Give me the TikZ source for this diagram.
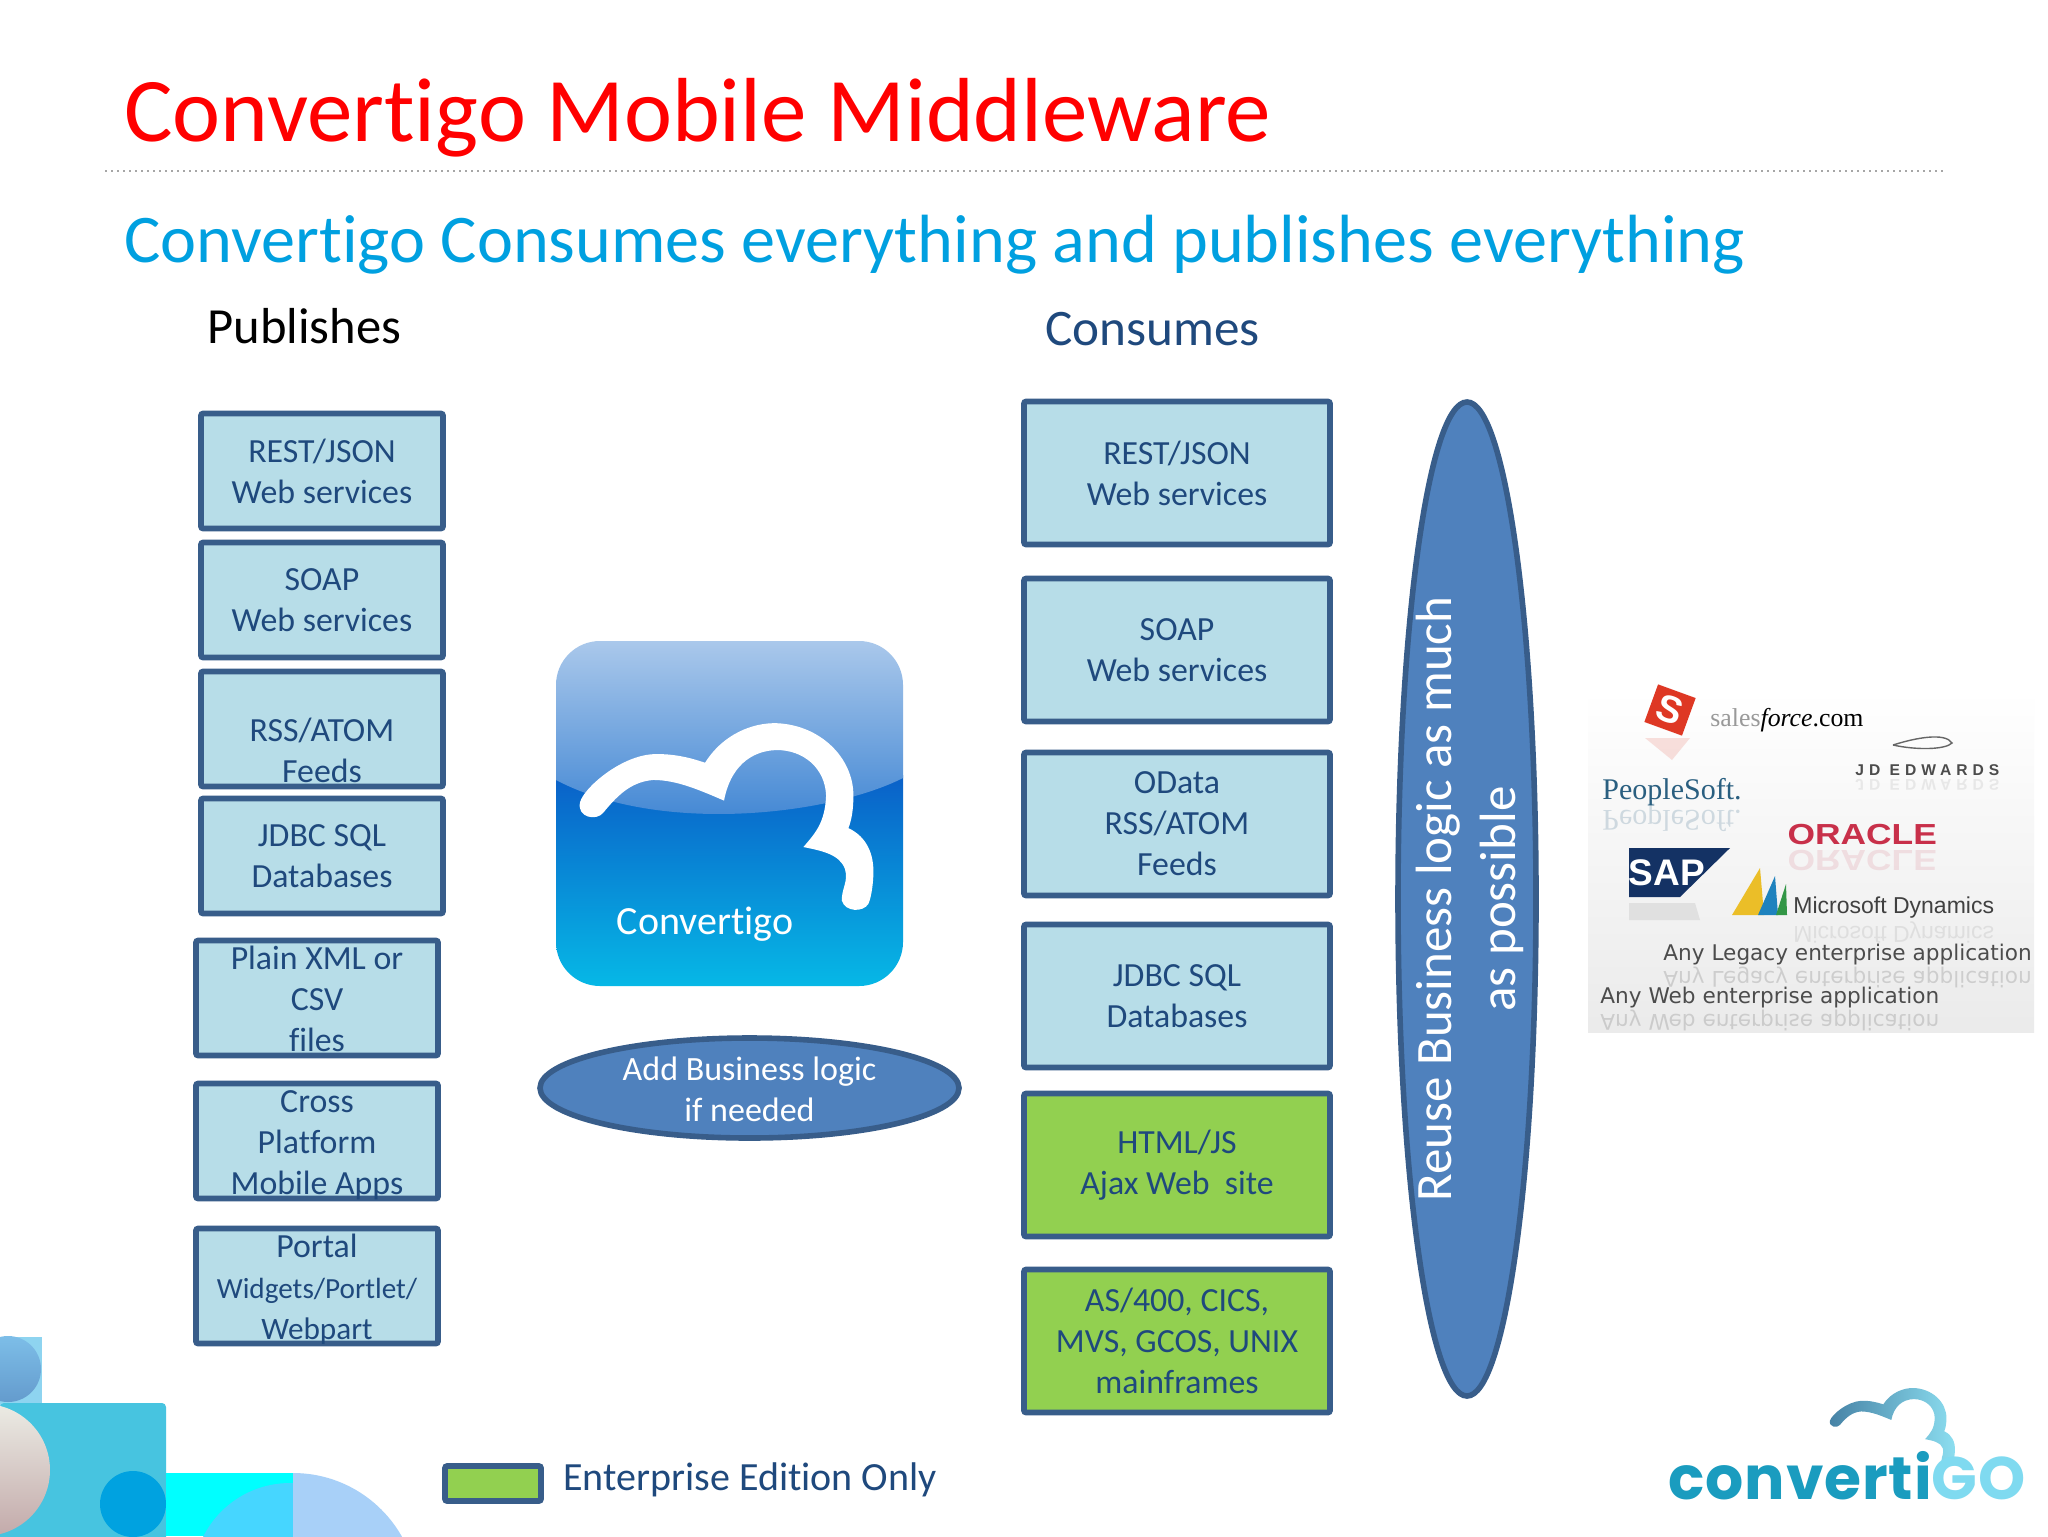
\documentclass[tikz,border=0pt]{standalone}
\usepackage{fontspec}
\usetikzlibrary{shapes.geometric}
\setmainfont[RawFeature={-liga;-clig}]{Carlito}
\newfontfamily\logosans{Liberation Sans}
\newfontfamily\logoserif{Liberation Serif}
\newfontfamily\logodeja{DejaVu Sans}
\newfontfamily\logopop{Poppins}
\definecolor{boxline}{HTML}{385D8A}
\definecolor{boxfill}{HTML}{B7DDE8}
\definecolor{boxtext}{HTML}{1F497D}
\definecolor{entgreen}{HTML}{92D050}
\definecolor{ovalfill}{HTML}{4F81BD}
\tikzset{
	svcbox/.style={draw=boxline, fill=boxfill, line width=2.8pt, rounded corners=1pt, text=boxtext, align=center, inner sep=0pt, font=\fontsize{16.9}{20.5}\selectfont},
	pubbox/.style={svcbox, minimum width=121pt, minimum height=57.5pt},
	conbox/.style={svcbox, minimum width=153pt, minimum height=71.5pt, execute at begin node={\rule{0pt}{15.5pt}}},
	entbox/.style={conbox, fill=entgreen},
	boxlabel/.style={text=boxtext, align=center, inner sep=0pt, font=\fontsize{16.9}{20.5}\selectfont},
	logicoval/.style={ellipse, draw=boxline, fill=ovalfill, line width=2.8pt, inner sep=0pt},
	ovallabel/.style={text=white, align=center, inner sep=0pt},
	logotext/.style={inner sep=0pt, anchor=west},
	mirrored/.style={logotext, yscale=-1, transform shape, opacity=0.2},
}
\def\cloudpath{(180,530) .. controls (190,490) and (300,395) .. (400,390) .. controls (460,388) and (510,400) .. (555,415) .. controls (610,330) and (700,298) .. (770,300) .. controls (900,305) and (1000,400) .. (1000,510) .. controls (1000,550) and (995,580) .. (985,605) .. controls (1040,630) and (1062,680) .. (1060,740) .. controls (1058,780) and (1052,810) .. (1045,825) .. controls (1030,850) and (975,850) .. (965,815) .. controls (965,780) and (985,760) .. (975,725) .. controls (960,680) and (900,670) .. (850,660) .. controls (885,620) and (915,590) .. (918,510) .. controls (915,430) and (850,378) .. (770,378) .. controls (690,380) and (630,430) .. (612,525) .. controls (540,495) and (470,465) .. (400,465) .. controls (340,470) and (300,500) .. (250,560) .. controls (230,585) and (170,575) .. (180,530) -- cycle}
\begin{document}
\begin{tikzpicture}[x=0.5pt, y=-0.5pt]
			%%%%% START %%%%%
			\useasboundingbox (0, 0) rectangle (2048, 1536);
			\fill[white] (0, 0) rectangle (2048, 1536);
			
			% corner decoration
			\fill[color={rgb,255:red,142;green,212;blue,240}] (0, 1337) rectangle (42, 1410);
			\shade[top color={rgb,255:red,125;green,190;blue,232}, bottom color={rgb,255:red,100;green,155;blue,205}] (8, 1369) circle (33);
			\fill[color={rgb,255:red,71;green,196;blue,224}, rounded corners=2pt] (0, 1403) rectangle (166, 1560);
			\fill[color={rgb,255:red,0;green,255;blue,255}] (166, 1473) rectangle (293, 1536);
			\begin{scope}
				\clip (166, 1473) rectangle (293, 1536);
				\fill[color={rgb,255:red,70;green,214;blue,255}] (290, 1580) circle (97);
			\end{scope}
			\begin{scope}
				\clip (293, 1473) rectangle (420, 1536);
				\fill[color={rgb,255:red,168;green,208;blue,248}] (293, 1598) circle (125);
			\end{scope}
			\begin{scope}
				\clip (0, 1400) rectangle (60, 1536);
				\shade[top color={rgb,255:red,235;green,235;blue,228}, bottom color={rgb,255:red,195;green,170;blue,170}] (-16, 1470) circle (66);
			\end{scope}
			\begin{scope}
				\clip (90, 1460) rectangle (170, 1536);
				\fill[color={rgb,255:red,0;green,162;blue,224}] (133, 1504) circle (33);
			\end{scope}
			
			% headings
			\node[logotext, text=red, font=\fontsize{45.5}{52}\selectfont] (title) at (124, 118) {Convertigo Mobile Middleware};
			\draw[dotted, line width=1pt, color=black!35] (105, 171) -- (1943, 171);
			\node[logotext, text={rgb,255:red,0;green,160;blue,224}, font=\fontsize{34.1}{38}\selectfont] (subtitle) at (124, 245) {Convertigo Consumes everything and publishes everything};
			\node[logotext, font=\fontsize{25.3}{28}\selectfont] (publishes) at (207, 326) {Publishes};
			\node[logotext, text=boxtext, font=\fontsize{25.6}{28}\selectfont] (consumes) at (1045, 329) {Consumes};
			
			% publishes column
			\node[pubbox] (pubrest) at (322, 471) {REST/JSON\\Web services};
			\node[pubbox] (pubsoap) at (322, 600) {SOAP\\Web services};
			\node[pubbox] (pubrss) at (322, 729) {};
			\node[boxlabel] (rsslabel) at (322, 750) {RSS/ATOM\\Feeds};
			\node[pubbox] (pubjdbc) at (322, 856) {JDBC SQL\\Databases};
			\node[pubbox] (pubxml) at (317, 998) {};
			\node[boxlabel] (xmllabel) at (317, 999) {Plain XML or\\CSV\\files};
			\node[pubbox] (pubcross) at (317, 1141) {};
			\node[boxlabel] (crosslabel) at (317, 1145) {Cross\\Platform\\Mobile Apps};
			\node[pubbox] (pubportal) at (317, 1286) {};
			\node[boxlabel] (portallabel) at (317, 1289) {Portal\\{\fontsize{14.6}{20}\selectfont Widgets/Portlet/}\\{\fontsize{15.6}{18}\selectfont Webpart}};
			
			% convertigo icon
			\begin{scope}
				\clip[rounded corners=22pt] (556, 641) rectangle (903, 986);
				\shade[top color={rgb,255:red,10;green,96;blue,200}, bottom color={rgb,255:red,6;green,184;blue,230}] (556, 775) rectangle (903, 986);
				\shade[top color={rgb,255:red,170;green,200;blue,235}, bottom color={rgb,255:red,58;green,130;blue,210}] (556, 641) -- (903, 641) -- (903, 778) .. controls (830, 815) and (660, 835) .. (556, 780) -- cycle;
			\end{scope}
			\begin{scope}[shift={(520, 620)}, x=0.1667pt, y=-0.172pt]
				\fill[white] \cloudpath;
			\end{scope}
			\node[text=white, inner sep=0pt, font=\fontsize{20}{24}\selectfont] (iconlabel) at (705, 924) {Convertigo};
			\node[logicoval, minimum width=209.5pt, minimum height=50pt] (addlogic) at (749.5, 1088) {};
			\node[ovallabel, font=\fontsize{17}{20.5}\selectfont] (addlabel) at (749.5, 1089) {Add Business logic\\if needed};
			
			% consumes column
			\node[conbox] (conrest) at (1177, 473) {REST/JSON\\Web services};
			\node[conbox] (consoap) at (1177, 650) {SOAP\\Web services};
			\node[conbox] (conodata) at (1177, 824) {OData\\RSS/ATOM\\Feeds};
			\node[conbox] (conjdbc) at (1177, 996) {JDBC SQL\\Databases};
			\node[entbox] (conhtml) at (1177, 1165) {HTML/JS\\Ajax Web\ \ site};
			\node[entbox] (conmain) at (1177, 1341) {AS/400, CICS,\\MVS, GCOS, UNIX\\mainframes};
			
			\node[logicoval, rotate=90, minimum width=497pt, minimum height=69pt] (reuse) at (1467, 899) {};
			\node[ovallabel, rotate=90, font=\fontsize{25.5}{32}\selectfont] (reuselabel) at (1470, 899) {Reuse Business logic as much\\as possible};
			
			% logo panel
			\shade[top color=white, bottom color=black!8] (1588, 690) rectangle (2034, 1032);
			
			\fill[color={rgb,255:red,222;green,56;blue,36}, opacity=0.15] (1645, 738) -- (1690, 738) -- (1672, 760) -- cycle;
			\node[fill={rgb,255:red,222;green,56;blue,36}, rotate=-20, minimum size=20pt, inner sep=0pt, text=white, font=\logosans\bfseries\fontsize{19}{19}\selectfont] (sfcube) at (1670, 710) {S};
			\node[logotext, font=\logoserif\fontsize{12.9}{13}\selectfont] (sfname) at (1710, 720) {\textcolor{black!40}{sales}\textit{force}.com};
			
			\draw[line width=0.7pt, color=black!60] (1893, 745) .. controls (1915, 738) and (1945, 732) .. (1952, 743) .. controls (1945, 750) and (1915, 750) .. (1893, 745);
			\node[logotext, text=black!70, font=\logosans\bfseries\fontsize{7.8}{8}\selectfont] (jdname) at (1855, 770) {\addfontfeature{LetterSpace=32}JD EDWARDS};
			\node[mirrored, opacity=0.1, text=black!70, font=\logosans\bfseries\fontsize{7.8}{8}\selectfont] (jdmirror) at (1855, 785) {\addfontfeature{LetterSpace=32}JD EDWARDS};
			
			\node[logotext, text={rgb,255:red,42;green,95;blue,128}, font=\logoserif\fontsize{15}{16}\selectfont] (psname) at (1602, 792) {PeopleSoft.};
			\node[mirrored, text={rgb,255:red,42;green,95;blue,128}, font=\logoserif\fontsize{15}{16}\selectfont] (psmirror) at (1602, 818) {PeopleSoft.};
			
			\node[logotext, xscale=1.22, transform shape, text={rgb,255:red,200;green,48;blue,74}, font=\logosans\bfseries\fontsize{14.5}{15}\selectfont] (orname) at (1787, 835) {ORACLE};
			\node[mirrored, opacity=0.12, xscale=1.22, text={rgb,255:red,200;green,48;blue,74}, font=\logosans\bfseries\fontsize{14.5}{15}\selectfont] (ormirror) at (1787, 860) {ORACLE};
			
			\fill[color=black!12] (1629, 903) -- (1695, 903) -- (1700, 920) -- (1629, 920) -- cycle;
			\fill[color={rgb,255:red,20;green,50;blue,100}] (1629, 848) -- (1730, 848) -- (1680, 897) -- (1629, 897) -- cycle;
			\node[text=white, inner sep=0pt, font=\logosans\bfseries\fontsize{18.5}{19}\selectfont] (sapname) at (1667, 873) {SAP};
			
			\fill[color={rgb,255:red,235;green,190;blue,40}] (1732, 915) -- (1760, 868) -- (1764, 915) -- cycle;
			\fill[color={rgb,255:red,30;green,130;blue,190}] (1758, 915) -- (1775, 876) -- (1778, 915) -- cycle;
			\fill[color={rgb,255:red,50;green,150;blue,70}] (1776, 915) -- (1786, 884) -- (1787, 915) -- cycle;
			\node[logotext, text=black!75, font=\logosans\fontsize{11.5}{12}\selectfont] (msname) at (1793, 908) {Microsoft Dynamics};
			\node[mirrored, opacity=0.1, text=black!75, font=\logosans\fontsize{11.5}{12}\selectfont] (msmirror) at (1793, 932) {Microsoft Dynamics};
			
			\node[logotext, text=black!70, font=\logodeja\fontsize{10.8}{11}\selectfont] (legacy) at (1663, 955) {Any Legacy enterprise application};
			\node[mirrored, text=black!70, font=\logodeja\fontsize{10.8}{11}\selectfont] (legacymirror) at (1663, 977) {Any Legacy enterprise application};
			\node[logotext, text=black!70, font=\logodeja\fontsize{10.8}{11}\selectfont] (webapp) at (1600, 998) {Any Web enterprise application};
			\node[mirrored, text=black!70, font=\logodeja\fontsize{10.8}{11}\selectfont] (webmirror) at (1600, 1020) {Any Web enterprise application};
			
			% legend
			\draw[line width=2.8pt, color=boxline, fill=entgreen, rounded corners=1pt] (445, 1466) rectangle (541, 1501);
			\node[logotext, text=boxtext, font=\fontsize{20}{24}\selectfont] (legend) at (563, 1480) {Enterprise Edition Only};
			
			% convertigo logo
			\begin{scope}[shift={(1804.4, 1345.4)}, x=0.071pt, y=-0.071pt]
				\shade[left color={rgb,255:red,70;green,130;blue,165}, right color={rgb,255:red,140;green,222;blue,240}] \cloudpath;
			\end{scope}
			\node[logotext, font=\logopop\bfseries\fontsize{30}{30}\selectfont] (logoname) at (1668, 1476) {\addfontfeature{LetterSpace=1.5}\textcolor{rgb,255:red,26;green,156;blue,191}{converti}\textcolor{rgb,255:red,127;green,218;blue,240}{GO}};
			
			%%%%% END %%%%%
		\end{tikzpicture}
\end{document}
